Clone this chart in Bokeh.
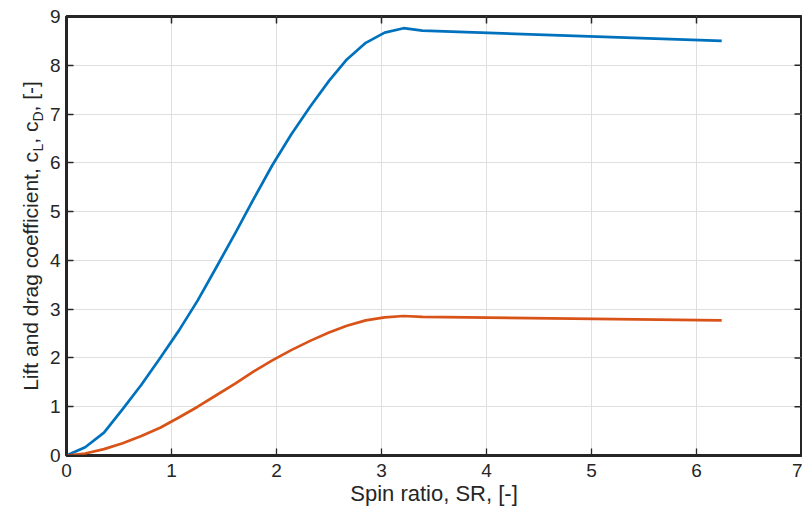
from bokeh.plotting import figure
from bokeh.layouts import row
from bokeh.models import Range1d, FixedTicker
from bokeh.core.properties import value
from bokeh.embed import file_html
from bokeh.resources import INLINE

# ---- data ----
spin_ratio = [0.0, 0.178, 0.357, 0.535, 0.713, 0.892, 1.07, 1.25, 1.43, 1.61,
              1.78, 1.96, 2.14, 2.32, 2.50, 2.67, 2.85, 3.03, 3.21, 3.39, 6.24]
c_lift = [0.0, 0.17, 0.47, 0.95, 1.45, 2.0, 2.56, 3.18, 3.87, 4.57,
          5.25, 5.95, 6.58, 7.15, 7.68, 8.12, 8.46, 8.67, 8.76, 8.71, 8.50]
c_drag = [0.0, 0.04, 0.13, 0.25, 0.4, 0.57, 0.78, 1.0, 1.24, 1.48,
          1.72, 1.95, 2.16, 2.35, 2.52, 2.66, 2.77, 2.83, 2.86, 2.84, 2.77]
x_ticks = [0, 1, 2, 3, 4, 5, 6, 7]
y_ticks = [0, 1, 2, 3, 4, 5, 6, 7, 8, 9]
x_label = "Spin ratio, SR, [-]"
y_label_parts = ["Lift and drag coefficient, c", "L", ", c", "D", ", [-]"]

FONT = "Liberation Sans"
AX = "#262626"
X0, X1, Y0, Y1 = 0, 7, 0, 9
W, H = 802, 515
LABEL_W = 46
B_LEFT, B_RIGHT, B_TOP, B_BOTTOM = 66 - LABEL_W, 1, 16, 60
TICK = 7

p = figure(width=W - LABEL_W, height=H, output_backend="svg", toolbar_location=None,
           x_range=Range1d(X0, X1), y_range=Range1d(Y0, Y1),
           min_border_left=B_LEFT, min_border_right=B_RIGHT, min_border_top=B_TOP,
           min_border_bottom=B_BOTTOM, outline_line_color=AX, outline_line_width=3,
           background_fill_color="white", border_fill_color="white")

p.grid.grid_line_color = "#dfdfdf"
p.grid.grid_line_width = 1
p.xgrid.ticker = FixedTicker(ticks=x_ticks)
p.ygrid.ticker = FixedTicker(ticks=y_ticks)

p.line(spin_ratio, c_lift, line_color="#0072BD", line_width=2.7, line_join="round")
p.line(spin_ratio, c_drag, line_color="#D95319", line_width=2.7, line_join="round")

for ax in (p.xaxis[0], p.yaxis[0]):
    ax.axis_line_color = AX
    ax.axis_line_width = 1.5
    ax.major_tick_line_color = AX
    ax.major_tick_line_width = 1.3
    ax.major_tick_in = TICK
    ax.major_tick_out = 0
    ax.minor_tick_line_color = None
    ax.major_label_text_font = FONT
    ax.major_label_text_font_size = "19px"
    ax.major_label_text_color = AX

p.xaxis.ticker = FixedTicker(ticks=x_ticks)
p.yaxis.ticker = FixedTicker(ticks=y_ticks)
p.xaxis.major_label_standoff = 8
p.yaxis.major_label_standoff = 6
p.xaxis.axis_label = x_label
p.xaxis.axis_label_text_font = FONT
p.xaxis.axis_label_text_font_size = "22px"
p.xaxis.axis_label_text_font_style = "normal"
p.xaxis.axis_label_text_color = AX
p.xaxis.axis_label_standoff = 1

# inward ticks on the top and right edges of the box
frame_w = W - LABEL_W - B_LEFT - B_RIGHT
frame_h = H - B_TOP - B_BOTTOM
dy = TICK * (Y1 - Y0) / frame_h
dx = TICK * (X1 - X0) / frame_w
p.segment(x0=x_ticks, y0=[Y1] * len(x_ticks), x1=x_ticks, y1=[Y1 - dy] * len(x_ticks),
          line_color=AX, line_width=1.5)
p.segment(x0=[X1] * len(y_ticks), y0=y_ticks, x1=[X1 - dx] * len(y_ticks), y1=y_ticks,
          line_color=AX, line_width=1.5)

# y-axis label (with subscripts) in a narrow side panel sharing the frame height
lab = figure(width=LABEL_W, height=H, output_backend="svg", toolbar_location=None,
             x_range=Range1d(0, LABEL_W), y_range=Range1d(Y0, Y1),
             x_axis_type=None, y_axis_type=None,
             min_border_left=0, min_border_right=0,
             min_border_top=B_TOP, min_border_bottom=B_BOTTOM,
             outline_line_color=None, background_fill_color="white",
             border_fill_color="white")
lab.grid.visible = False
main_px, sub_px = 21, 14
widths_em = [11.395, 0.556, 1.056, 0.722, 1.445]
sizes = [main_px, sub_px, main_px, sub_px, main_px]
lengths = [w * s for w, s in zip(widths_em, sizes)]
pos = frame_h / 2 - sum(lengths) / 2          # pixels above the frame bottom
for i, (txt, s, L) in enumerate(zip(y_label_parts, sizes, lengths)):
    bx = 30 + (7 if i % 2 == 1 else 0)
    lab.text(x=[bx], y=[Y0 + pos * (Y1 - Y0) / frame_h], text=[txt],
             angle=90, angle_units="deg",
             text_align="left", text_baseline="alphabetic",
             text_font=value(FONT), text_font_size=f"{s}px", text_color=AX)
    pos += L

layout = row(lab, p, spacing=0)
open("out.html", "w").write(file_html(layout, INLINE))
